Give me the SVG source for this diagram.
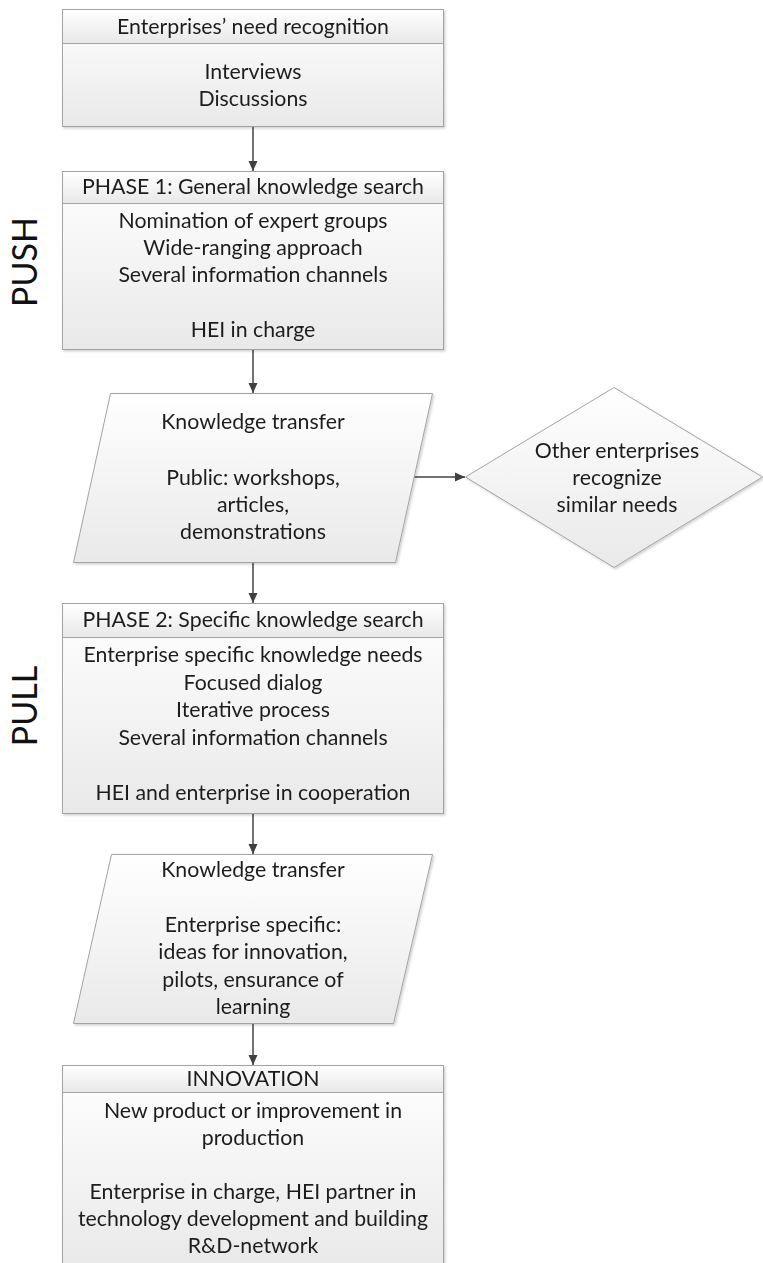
<svg xmlns="http://www.w3.org/2000/svg" width="763" height="1263" viewBox="0 0 763 1263">
  <defs>
    <linearGradient id="bodyFill" x1="0" y1="0" x2="0" y2="1">
      <stop offset="0" stop-color="#ffffff"/>
      <stop offset="1" stop-color="#e9e9e9"/>
    </linearGradient>
    <linearGradient id="headFill" x1="0" y1="0" x2="0" y2="1">
      <stop offset="0" stop-color="#ffffff"/>
      <stop offset="1" stop-color="#e8e8e8"/>
    </linearGradient>
    <filter id="shadow" x="-5%" y="-5%" width="110%" height="110%">
      <feDropShadow dx="1.5" dy="1.5" stdDeviation="1.2" flood-color="#000" flood-opacity="0.18"/>
    </filter>
    <marker id="arrow" viewBox="0 0 10 10" refX="10" refY="5" markerWidth="10" markerHeight="10" markerUnits="userSpaceOnUse" orient="auto">
      <path d="M0,0.5 L10,5 L0,9.5 Z" fill="#404040"/>
    </marker>
  </defs>
  <style>
    .shape { stroke: #a3a3a3; stroke-width: 1; }
    .body { fill: url(#bodyFill); }
    .head { fill: url(#headFill); }
    .t { font-family: Lato, "Liberation Sans", sans-serif; font-size: 21.3px; fill: #1e1e1e; text-anchor: middle; }
    .side { font-family: Lato, "Liberation Sans", sans-serif; font-size: 34px; fill: #111; text-anchor: middle; }
    .conn { stroke: #454545; stroke-width: 1.5; fill: none; marker-end: url(#arrow); }
  </style>

  <rect width="763" height="1263" fill="#ffffff"/>

  <!-- side labels -->
  <text class="side" transform="translate(37 262) rotate(-90)">PUSH</text>
  <text class="side" transform="translate(37 706) rotate(-90)">PULL</text>

  <!-- connectors -->
  <g id="connectors">
    <line class="conn" x1="253" y1="126" x2="253" y2="171"/>
    <line class="conn" x1="253" y1="349" x2="253" y2="393"/>
    <line class="conn" x1="253" y1="562" x2="253" y2="603"/>
    <line class="conn" x1="253" y1="813" x2="253" y2="854"/>
    <line class="conn" x1="253" y1="1023" x2="253" y2="1065"/>
    <line class="conn" x1="413" y1="477" x2="465" y2="477"/>
  </g>

  <!-- Enterprises' need recognition -->
  <g id="need-recognition" filter="url(#shadow)">
    <rect class="shape body" x="62.5" y="9.5" width="381" height="117"/>
    <rect class="shape head" x="62.5" y="9.5" width="381" height="34"/>
    <text class="t" x="253" y="34">Enterprises’ need recognition</text>
    <text class="t" x="253" y="79">Interviews</text>
    <text class="t" x="253" y="106">Discussions</text>
  </g>

  <!-- Phase 1 -->
  <g id="phase1" filter="url(#shadow)">
    <rect class="shape body" x="62.5" y="171.5" width="381" height="178"/>
    <rect class="shape head" x="62.5" y="171.5" width="381" height="32"/>
    <text class="t" x="253" y="194">PHASE 1: General knowledge search</text>
    <text class="t" x="253" y="228">Nomination of expert groups</text>
    <text class="t" x="253" y="255">Wide-ranging approach</text>
    <text class="t" x="253" y="282">Several information channels</text>
    <text class="t" x="253" y="337">HEI in charge</text>
  </g>

  <!-- Knowledge transfer (public) -->
  <g id="transfer-public" filter="url(#shadow)">
    <polygon class="shape body" points="110.5,393.5 432.5,393.5 395.5,562.5 73.5,562.5"/>
    <text class="t" x="253" y="429">Knowledge transfer</text>
    <text class="t" x="253" y="485">Public: workshops,</text>
    <text class="t" x="253" y="512">articles,</text>
    <text class="t" x="253" y="539">demonstrations</text>
  </g>

  <!-- Other enterprises -->
  <g id="other-enterprises" filter="url(#shadow)">
    <polygon class="shape body" points="465.5,477 614,387.5 762.5,477 614,567.5"/>
    <text class="t" x="617" y="458">Other enterprises</text>
    <text class="t" x="617" y="485">recognize</text>
    <text class="t" x="617" y="512">similar needs</text>
  </g>

  <!-- Phase 2 -->
  <g id="phase2" filter="url(#shadow)">
    <rect class="shape body" x="62.5" y="603.5" width="381" height="210"/>
    <rect class="shape head" x="62.5" y="603.5" width="381" height="34"/>
    <text class="t" x="253" y="627">PHASE 2: Specific knowledge search</text>
    <text class="t" x="253" y="662">Enterprise specific knowledge needs</text>
    <text class="t" x="253" y="689.5">Focused dialog</text>
    <text class="t" x="253" y="717">Iterative process</text>
    <text class="t" x="253" y="744.5">Several information channels</text>
    <text class="t" x="253" y="799.5">HEI and enterprise in cooperation</text>
  </g>

  <!-- Knowledge transfer (enterprise specific) -->
  <g id="transfer-specific" filter="url(#shadow)">
    <polygon class="shape body" points="111.5,854.5 432.5,854.5 393.5,1023.5 73.5,1023.5"/>
    <text class="t" x="253" y="877">Knowledge transfer</text>
    <text class="t" x="253" y="932">Enterprise specific:</text>
    <text class="t" x="253" y="959">ideas for innovation,</text>
    <text class="t" x="253" y="987">pilots, ensurance of</text>
    <text class="t" x="253" y="1014">learning</text>
  </g>

  <!-- Innovation -->
  <g id="innovation" filter="url(#shadow)">
    <rect class="shape body" x="62.5" y="1065.5" width="381" height="200"/>
    <rect class="shape head" x="62.5" y="1065.5" width="381" height="27"/>
    <text class="t" x="253" y="1086">INNOVATION</text>
    <text class="t" x="253" y="1118">New product or improvement in</text>
    <text class="t" x="253" y="1145">production</text>
    <text class="t" x="253" y="1199">Enterprise in charge, HEI partner in</text>
    <text class="t" x="253" y="1226">technology development and building</text>
    <text class="t" x="253" y="1253">R&amp;D-network</text>
  </g>
</svg>
